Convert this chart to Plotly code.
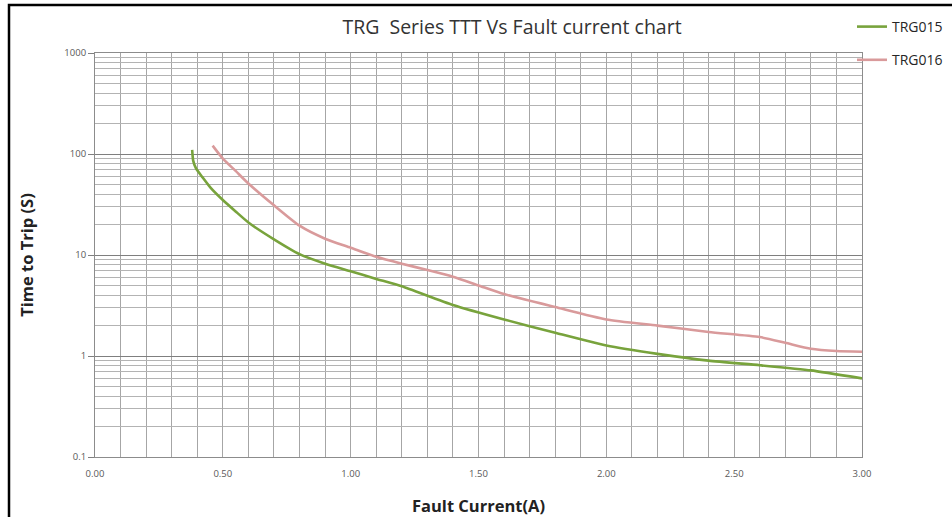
import plotly.graph_objects as go

# ---- data ----
current_trg015 = [0.38, 0.384, 0.395, 0.42, 0.45, 0.50, 0.55, 0.60, 0.70, 0.80, 0.90, 1.00,
                  1.10, 1.20, 1.40, 1.60, 1.80, 2.00, 2.20, 2.40, 2.60, 2.80, 3.00]
time_trg015 = [110, 86, 72, 59, 47, 35, 27, 21, 14.3, 10.2, 8.2, 6.9,
               5.8, 4.9, 3.2, 2.3, 1.7, 1.27, 1.05, 0.90, 0.81, 0.72, 0.60]

current_trg016 = [0.46, 0.50, 0.55, 0.60, 0.70, 0.80, 0.90, 1.00, 1.10, 1.20, 1.30, 1.40,
                  1.50, 1.60, 1.80, 2.00, 2.20, 2.40, 2.60, 2.70, 2.80, 2.90, 3.00]
time_trg016 = [121, 90, 68, 51, 31, 19.5, 14.5, 11.8, 9.6, 8.2, 7.1, 6.1,
               5.0, 4.1, 3.05, 2.3, 2.0, 1.73, 1.54, 1.35, 1.18, 1.12, 1.10]

series_names = ["TRG015", "TRG016"]
x_tick_vals = [0.0, 0.5, 1.0, 1.5, 2.0, 2.5, 3.0]
y_tick_vals = [0.1, 1, 10, 100, 1000]
y_tick_text = ["0.1", "1", "10", "100", "1000"]

FONT = "Open Sans"

fig = go.Figure()
fig.add_trace(go.Scatter(x=current_trg015, y=time_trg015, name=series_names[0], mode="lines",
                         line=dict(color="#78a33c", width=2.6, shape="spline", smoothing=0.5),
                         legendgroup="a"))
fig.add_trace(go.Scatter(x=current_trg016, y=time_trg016, name=series_names[1], mode="lines",
                         line=dict(color="#d99a9b", width=2.6, shape="spline", smoothing=0.6),
                         legendgroup="b"))

L, R, T, B = 95, 90, 53, 60
W, H = 952, 517
pw, ph = W - L - R, H - T - B

fig.update_layout(
    width=W, height=H,
    margin=dict(l=L, r=R, t=T, b=B, autoexpand=False),
    paper_bgcolor="white", plot_bgcolor="white",
    title=dict(text="TRG  Series TTT Vs Fault current chart", x=(512) / W, xanchor="center",
               y=1 - 27 / H, yanchor="middle", font=dict(family=FONT, size=19.5, color="#333333")),
    font=dict(family=FONT, color="#404040"),
    legend=dict(x=(852 - L) / pw, xanchor="left", y=1 + (T - 11) / ph, yanchor="top",
                bgcolor="rgba(0,0,0,0)", font=dict(family=FONT, size=14, color="#262626"),
                traceorder="grouped", tracegroupgap=12, itemwidth=30),
    xaxis=dict(range=[0, 3], tickvals=x_tick_vals, tickformat=".2f", showgrid=True,
               gridcolor="#a6a6a6", gridwidth=1,
               minor=dict(dtick=0.1, showgrid=True, gridcolor="#a6a6a6", gridwidth=1),
               showline=True, linecolor="#8c8c8c", mirror=True, ticks="", zeroline=False,
               tickfont=dict(size=9.5, color="#595959"), ticklabelstandoff=8,
               title=dict(text="<b>Fault Current(A)</b>", font=dict(family=FONT, size=16.5, color="#222222"),
                          standoff=21)),
    yaxis=dict(type="log", range=[-1, 3], tickvals=y_tick_vals, ticktext=y_tick_text,
               showgrid=True, gridcolor="#7f7f7f", gridwidth=1,
               minor=dict(dtick="D1", showgrid=True, gridcolor="#b3b3b3", gridwidth=1, ticks=""),
               showline=True, linecolor="#8c8c8c", mirror=True, ticks="outside", ticklen=6,
               tickcolor="#7f7f7f", zeroline=False,
               tickfont=dict(size=9.5, color="#595959"),
               title=dict(text="<b>Time to Trip (S)</b>", font=dict(family=FONT, size=16.5, color="#222222"),
                          standoff=26)),
)

# outer chart border (left and top visible; right/bottom lie beyond the picture)
fig.add_shape(type="rect", xref="paper", yref="paper",
              x0=(9 - L) / pw, x1=(W + 20 - L) / pw, y0=-(B + 20) / ph, y1=1 + (T - 5) / ph,
              line=dict(color="black", width=2.5), fillcolor="rgba(0,0,0,0)", layer="above")

fig.write_html("out.html", config={"displayModeBar": False},
               post_script="document.body.style.margin='0';")
